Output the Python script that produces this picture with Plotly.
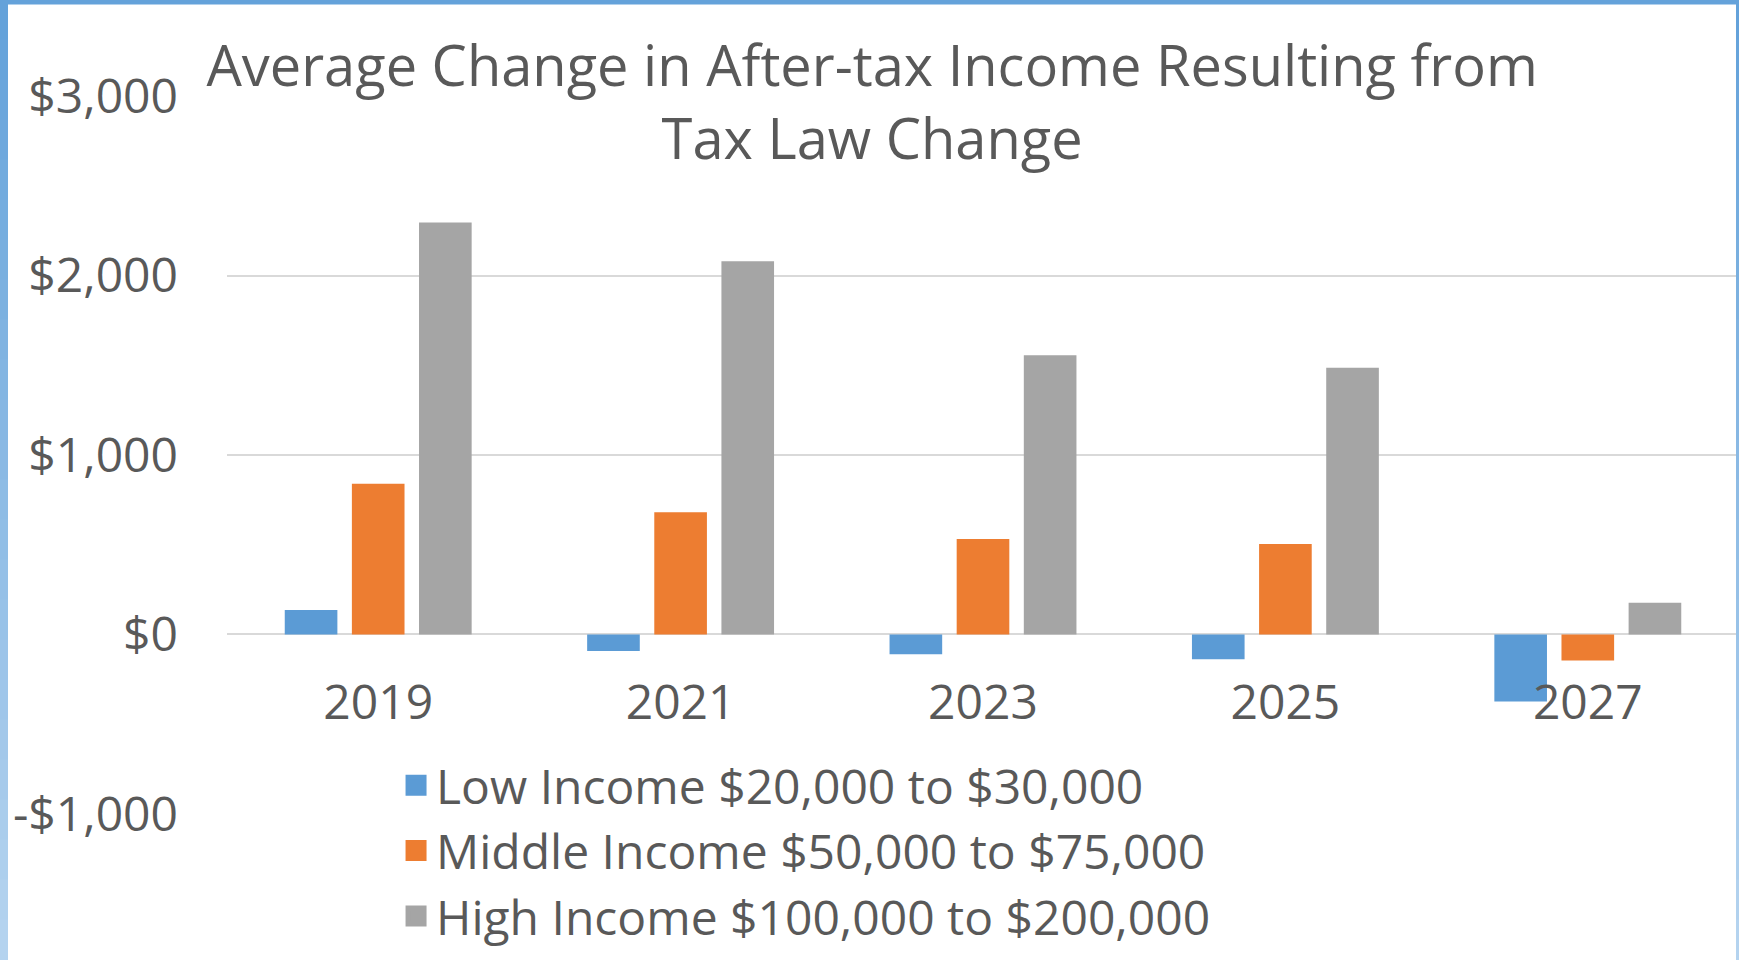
import plotly.graph_objects as go

# ---- data ----
years = ["2019", "2021", "2023", "2025", "2027"]
low_income = [136, -92, -110, -138, -374]
middle_income = [840, 681, 532, 504, -145]
high_income = [2296, 2080, 1556, 1486, 176]
series_names = [
    "Low Income $20,000 to $30,000",
    "Middle Income $50,000 to $75,000",
    "High Income $100,000 to $200,000",
]
series_colors = ["#5B9BD5", "#ED7D31", "#A5A5A5"]
y_tick_vals = [-1000, 0, 1000, 2000, 3000]
y_tick_text = ["-$1,000", "$0", "$1,000", "$2,000", "$3,000"]
title_text = "Average Change in After-tax Income Resulting from<br>Tax Law Change"

FONT = "Open Sans, Lato, sans-serif"
TXT = "#595959"
W, H = 1739, 960
L, R, T, B = 227, 0, 96.4, 146.3

fig = go.Figure()
for name, vals, col in zip(series_names, [low_income, middle_income, high_income], series_colors):
    fig.add_trace(go.Bar(x=years, y=vals, name=name, showlegend=False, legendgroup=name,
                         marker=dict(color=col, line=dict(width=0))))
# legend swatches (larger square than the default bar legend icon)
for name, col in zip(series_names, series_colors):
    fig.add_trace(go.Scatter(x=[None], y=[None], mode="markers", name=name, legendgroup=name,
                             marker=dict(symbol="square", size=16, color=col,
                                         line=dict(width=5, color=col)),
                             hoverinfo="skip"))

# border shapes (pixel sized, anchored to paper)
shapes = []
def lerp(c1, c2, t):
    a = [int(c1[i:i+2], 16) for i in (1, 3, 5)]
    b = [int(c2[i:i+2], 16) for i in (1, 3, 5)]
    return "#%02x%02x%02x" % tuple(round(a[k] + (b[k] - a[k]) * t) for k in range(3))

top_col, bot_col = "#64A2DA", "#B4D3EF"
nseg = 24
for i in range(nseg):
    t = i / (nseg - 1)
    c = lerp(top_col, bot_col, t)
    s0 = i * H / nseg
    s1 = (i + 1) * H / nseg + 1
    y1 = T - s0
    y0 = T - s1
    shapes.append(dict(type="rect", xref="paper", yref="paper", xsizemode="pixel", ysizemode="pixel",
                       xanchor=0, yanchor=1, x0=-L, x1=-L + 8, y0=y0, y1=y1,
                       fillcolor=c, line=dict(width=0), layer="above"))
    shapes.append(dict(type="rect", xref="paper", yref="paper", xsizemode="pixel", ysizemode="pixel",
                       xanchor=1, yanchor=1, x0=-3, x1=2, y0=y0, y1=y1,
                       fillcolor=c, line=dict(width=0), layer="above"))
shapes.append(dict(type="rect", xref="paper", yref="paper", xsizemode="pixel", ysizemode="pixel",
                   xanchor=0, yanchor=1, x0=-L, x1=W, y0=T - 5, y1=T + 2,
                   fillcolor="#64A2DA", line=dict(width=0), layer="above"))

fig.update_layout(
    width=W, height=H,
    margin=dict(l=L, r=R, t=T, b=B, pad=0),
    paper_bgcolor="white", plot_bgcolor="white",
    font=dict(family=FONT, color=TXT, size=48),
    title=dict(text=title_text, x=0.5015, xref="container", xanchor="center",
               y=1 - 86 / H, yref="container", yanchor="top",
               font=dict(family=FONT, size=56, color=TXT)),
    barmode="group", bargap=0.334, bargroupgap=0.216,
    showlegend=True,
    legend=dict(orientation="v", x=0.1118, y=0.0926, xanchor="left", yanchor="top",
                font=dict(family=FONT, size=48, color=TXT), bgcolor="rgba(0,0,0,0)",
                traceorder="normal", itemclick=False, itemdoubleclick=False),
    xaxis=dict(type="category", anchor="free", position=0.25, showgrid=False, showline=False,
               zeroline=False, ticks="", tickfont=dict(size=48, color=TXT), ticklabelstandoff=35),
    yaxis=dict(range=[-1001, 3001], tickvals=y_tick_vals, ticktext=y_tick_text, showgrid=True,
               gridcolor="#D9D9D9", gridwidth=2, zeroline=True, zerolinecolor="#D9D9D9",
               zerolinewidth=2, showline=False, ticks="", tickfont=dict(size=48, color=TXT),
               ticklabelstandoff=48),
    shapes=shapes,
)

fig.write_html("out.html", config={"displayModeBar": False},
               post_script="document.body.style.margin='0';")
